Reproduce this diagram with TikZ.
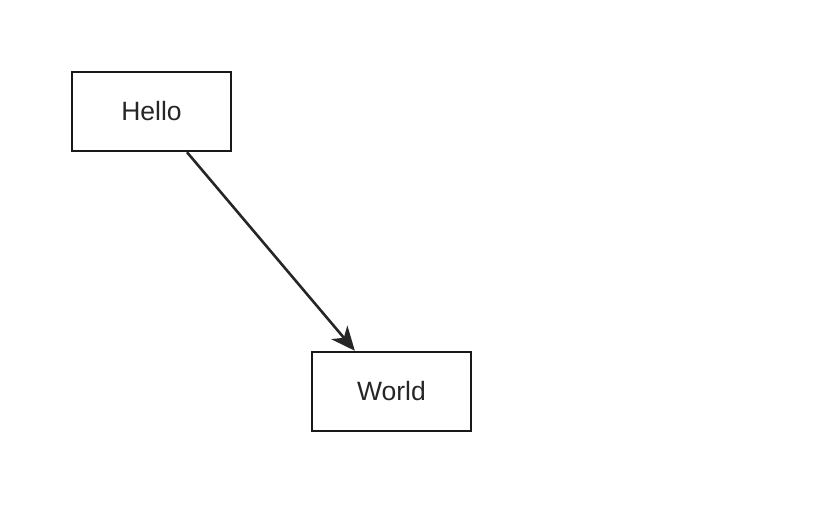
\documentclass[tikz,border=0pt]{standalone}
\usepackage{fontspec}
\setmainfont{Liberation Sans}
\usetikzlibrary{arrows.meta,calc}
\begin{document}
\begin{tikzpicture}[x=1pt,y=1pt,
  box/.style={draw=black!90,line width=2.5pt,minimum width=159pt,minimum height=79pt,inner sep=0pt,font=\fontsize{26.5}{30}\selectfont,text=black!85},
  conn/.style={draw=black!85,line width=2.6pt,-{Stealth[length=24pt,width=21pt,inset=7pt]}}]
\useasboundingbox[fill=white] (0,0) rectangle (821,508);
\node[box] (hello) at (151.5,396.5) {\raisebox{1.5pt}{Hello}};
\node[box] (world) at (391.5,116.5) {\raisebox{1.5pt}{World}};
\coordinate (s) at ($(hello.south west)!0.72!(hello.south east)$);
\coordinate (e) at ($(world.north west)!0.273!(world.north east)$);
\draw[conn] (s) -- (e);
\end{tikzpicture}
\end{document}
